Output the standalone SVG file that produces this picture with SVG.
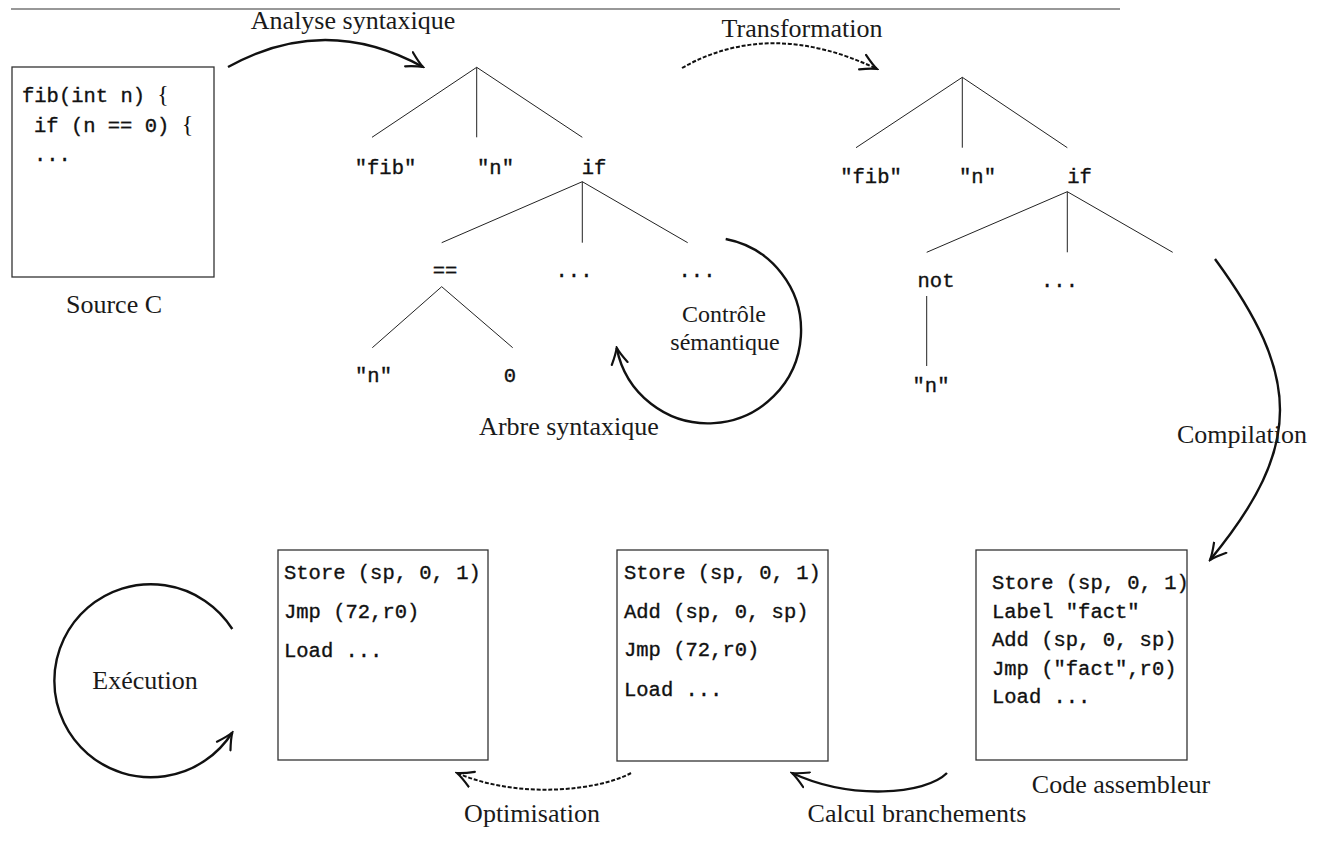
<svg xmlns="http://www.w3.org/2000/svg" width="1325" height="859" viewBox="0 0 1325 859">
<style>
.serif{font-family:"Liberation Serif","Times New Roman",serif;font-size:26px;fill:#1a1a1a;text-anchor:middle}
.small{font-size:24px}
.mono{font-family:"Liberation Mono","Courier New",monospace;font-size:20.5px;fill:#111;stroke:#111;stroke-width:0.35}
.mid{text-anchor:middle}
.box{fill:#fff;stroke:#333;stroke-width:1.3}
.edge{stroke:#222;stroke-width:1;fill:none}
.arr{stroke:#111;stroke-width:2.4;fill:none;marker-end:url(#head)}
.dash{stroke-dasharray:4 1.8;stroke-width:2}
</style>
<defs>
<marker id="head" markerUnits="userSpaceOnUse" viewBox="-17 -10 19 20" refX="0" refY="0" markerWidth="19" markerHeight="20" orient="auto">
<path d="M-16,-8 Q-6,-2 0,0 Q-6,2 -16,8" fill="none" stroke="#111" stroke-width="2.2" stroke-dasharray="none" stroke-linecap="round"/>
</marker>
</defs>
<line x1="11" y1="9" x2="1120" y2="9" stroke="#333" stroke-width="1.2"/>

<g id="source">
<rect class="box" x="12" y="67" width="202" height="210"/>
<text class="mono" x="22" y="102">fib(int n) <tspan font-family="Liberation Serif" font-size="24" stroke-width="0">{</tspan></text>
<text class="mono" x="34" y="132">if (n == 0) <tspan font-family="Liberation Serif" font-size="24" stroke-width="0">{</tspan></text>
<text class="mono" x="34" y="161">...</text>
<text class="serif" x="114" y="313">Source C</text>
</g>

<g id="tree1">
<g id="t1-fib"><text class="mono mid" x="385.5" y="173.5">"fib"</text></g>
<g id="t1-n"><text class="mono mid" x="495.5" y="173.5">"n"</text></g>
<g id="t1-if"><text class="mono mid" x="594" y="173.5">if</text></g>
<g id="t1-eq"><text class="mono mid" x="445" y="277">==</text></g>
<g id="t1-dots1"><text class="mono mid" x="574" y="277">...</text></g>
<g id="t1-dots2"><text class="mono mid" x="697" y="277">...</text></g>
<g id="t1-n2"><text class="mono mid" x="373.5" y="382">"n"</text></g>
<g id="t1-0"><text class="mono mid" x="510" y="382">0</text></g>
<g id="t1-label"><text class="serif" x="569" y="435">Arbre syntaxique</text></g>
</g>

<g id="tree2">
<g id="t2-fib"><text class="mono mid" x="871" y="183">"fib"</text></g>
<g id="t2-n"><text class="mono mid" x="977.5" y="183">"n"</text></g>
<g id="t2-if"><text class="mono mid" x="1079.5" y="183">if</text></g>
<g id="t2-not"><text class="mono mid" x="936" y="287">not</text></g>
<g id="t2-dots"><text class="mono mid" x="1059.5" y="287">...</text></g>
<g id="t2-n2"><text class="mono mid" x="931" y="391.5">"n"</text></g>
</g>

<g id="asm">
<rect class="box" x="976" y="550" width="211" height="210"/>
<text class="mono" x="992" y="589">Store (sp, 0, 1)</text>
<text class="mono" x="992" y="617.5">Label "fact"</text>
<text class="mono" x="992" y="646">Add (sp, 0, sp)</text>
<text class="mono" x="992" y="674.5">Jmp ("fact",r0)</text>
<text class="mono" x="992" y="703">Load ...</text>
<text class="serif" x="1121" y="793">Code assembleur</text>
</g>

<g id="branch">
<rect class="box" x="617" y="550" width="211" height="211"/>
<text class="mono" x="624" y="579">Store (sp, 0, 1)</text>
<text class="mono" x="624" y="617.5">Add (sp, 0, sp)</text>
<text class="mono" x="624" y="656">Jmp (72,r0)</text>
<text class="mono" x="624" y="695.5">Load ...</text>
</g>

<g id="optim">
<rect class="box" x="278" y="550" width="210" height="210"/>
<text class="mono" x="284" y="579">Store (sp, 0, 1)</text>
<text class="mono" x="284" y="618">Jmp (72,r0)</text>
<text class="mono" x="284" y="657">Load ...</text>
</g>

<g id="connectors">
<path class="edge" d="M372,137.3 L476.7,67.3 L582.3,137.3 M476.7,67.3 V137.3"/>
<path class="edge" d="M441.7,242.7 L582.3,181.7 L687.7,242.7 M582.3,181.7 V242.7"/>
<path class="edge" d="M372.3,347.7 L441.7,286.7 L512.7,347.7"/>
<path class="edge" d="M856,147.7 L962.3,77.3 L1067.3,147.7 M962.3,77.3 V147.7"/>
<path class="edge" d="M926.7,252.3 L1067.3,191.7 L1172.7,252.3 M1067.3,191.7 V252.3"/>
<path class="edge" d="M926.7,296 V366"/>

<path class="arr" d="M228,67 Q325,13 423,67"/>
<path class="arr dash" d="M682,68 Q770,18 877,69"/>
<path class="arr" d="M725.7,239 A93,93 0 1 1 616.7,347.7"/>
<path class="arr" d="M1215,259 C1300,375 1305,445 1210,560"/>
<path class="arr" d="M947,773 C925,795 850,800 792,773"/>
<path class="arr dash" d="M631,773 C600,790 520,800 457,773"/>
<path class="arr" d="M232.3,629 A96.5,96.5 0 1 0 232.3,732.5"/>
</g>

<g id="labels">
<text class="serif" x="353" y="29">Analyse syntaxique</text>
<text class="serif" x="802" y="37">Transformation</text>
<text class="serif small" x="724" y="322">Contrôle</text>
<text class="serif small" x="725" y="350">sémantique</text>
<text class="serif" x="1242" y="443">Compilation</text>
<text class="serif" x="145" y="689">Exécution</text>
<text class="serif" x="532" y="822">Optimisation</text>
<text class="serif" x="917" y="822">Calcul branchements</text>
</g>
</svg>
